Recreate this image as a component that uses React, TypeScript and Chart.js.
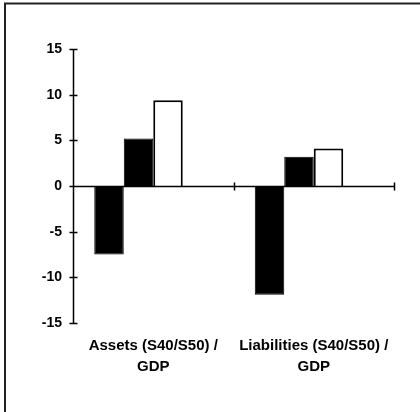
import React, { useEffect, useRef } from "react";
import { Chart, registerables } from "chart.js";

Chart.register(...registerables);

const categories = [
  ["Assets (S40/S50) /", "GDP"],
  ["Liabilities (S40/S50) /", "GDP"],
];
const series1 = [-7.5, -11.9];
const series2 = [5.2, 3.2];
const series3 = [9.4, 4.1];
const series4: (number | null)[] = [null, null];
const yTickValues = [-15, -10, -5, 0, 5, 10, 15];

const FONT = "'Liberation Sans', Arial, Helvetica, sans-serif";

const axesPlugin = {
  id: "axesPlugin",
  beforeDraw(chart: any) {
    const ctx = chart.ctx;
    ctx.save();
    ctx.fillStyle = "#ffffff";
    ctx.fillRect(0, 0, chart.width, chart.height);
    ctx.strokeStyle = "#222";
    ctx.lineWidth = 2;
    ctx.beginPath();
    ctx.moveTo(5, chart.height);
    ctx.lineTo(5, 3.5);
    ctx.lineTo(chart.width, 3.5);
    ctx.stroke();
    ctx.restore();
  },
  afterDatasetsDraw(chart: any) {
    const ctx = chart.ctx;
    const x = chart.scales.x;
    const y = chart.scales.y;
    const area = chart.chartArea;
    const left = Math.round(area.left) + 0.5;
    const y0 = Math.round(y.getPixelForValue(0)) + 0.5;
    ctx.save();
    ctx.strokeStyle = "#000";
    ctx.lineWidth = 1.5;
    ctx.beginPath();
    // y axis
    ctx.moveTo(left, y.getPixelForValue(15));
    ctx.lineTo(left, y.getPixelForValue(-15));
    yTickValues.forEach((v) => {
      const py = Math.round(y.getPixelForValue(v)) + 0.5;
      ctx.moveTo(left - 4, py);
      ctx.lineTo(left + 4, py);
    });
    // x axis at zero
    ctx.moveTo(left - 3, y0);
    ctx.lineTo(area.right, y0);
    // category boundary ticks
    for (let i = 0; i < categories.length; i++) {
      const px = Math.round(x.getPixelForValue(i + 0.5)) + 0.5;
      ctx.moveTo(px, y0 - 4);
      ctx.lineTo(px, y0 + 4);
    }
    ctx.stroke();
    ctx.restore();
  },
};

export default function App() {
  const canvasRef = useRef<HTMLCanvasElement | null>(null);

  useEffect(() => {
    const canvas = canvasRef.current;
    if (!canvas) return;
    const chart = new Chart(canvas, {
      type: "bar",
      data: {
        labels: categories as any,
        datasets: [
          { label: "s1", data: series1, backgroundColor: "#000", borderColor: "#000", borderWidth: 1 },
          { label: "s2", data: series2, backgroundColor: "#000", borderColor: "#000", borderWidth: 1 },
          { label: "s3", data: series3, backgroundColor: "#fff", borderColor: "#000", borderWidth: 2 },
          { label: "s4", data: series4 as any, backgroundColor: "#fff", borderColor: "#000", borderWidth: 0 },
        ],
      },
      options: {
        responsive: false,
        animation: false,
        devicePixelRatio: 1,
        events: [],
        layout: { padding: { top: 49, right: 26, bottom: 0, left: 0 } },
        datasets: {
          bar: { categoryPercentage: 0.735, barPercentage: 1, skipNull: false },
        },
        plugins: {
          legend: { display: false },
          tooltip: { enabled: false },
          title: { display: false },
        },
        scales: {
          x: {
            type: "category",
            grid: { display: false, drawTicks: false },
            border: { display: false },
            ticks: {
              color: "#000",
              font: { family: FONT, size: 15, weight: "bold", lineHeight: 1.4 },
              padding: 12,
              maxRotation: 0,
              minRotation: 0,
              autoSkip: false,
            },
            afterFit(scale: any) {
              scale.height = 89;
            },
          },
          y: {
            min: -15,
            max: 15,
            grid: { display: false, drawTicks: false },
            border: { display: false },
            ticks: {
              stepSize: 5,
              color: "#000",
              font: { family: FONT, size: 14, weight: "bold" },
              padding: 11,
            },
            afterFit(scale: any) {
              scale.width = 73;
            },
          },
        },
      },
      plugins: [axesPlugin],
    });
    return () => chart.destroy();
  }, []);

  return (
    <div style={{ position: "absolute", left: 0, top: 0, width: 420, height: 412, background: "#fff" }}>
      <canvas ref={canvasRef} width={420} height={412} style={{ display: "block", width: 420, height: 412 }} />
    </div>
  );
}
